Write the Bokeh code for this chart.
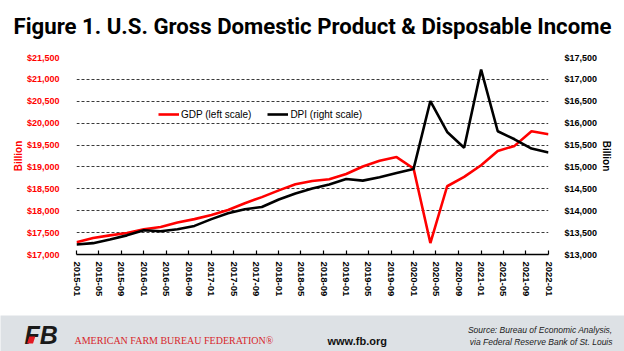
import pandas as pd
from bokeh.plotting import figure
from bokeh.models import (Range1d, LinearAxis, FixedTicker, DatetimeTickFormatter,
                          NumeralTickFormatter, Legend, LegendItem, ColumnDataSource)
from bokeh.layouts import column
from bokeh.embed import file_html
from bokeh.resources import INLINE
from bokeh.core.properties import value

# ---------------- data ----------------
quarters = ["2015-01", "2015-04", "2015-07", "2015-10",
            "2016-01", "2016-04", "2016-07", "2016-10",
            "2017-01", "2017-04", "2017-07", "2017-10",
            "2018-01", "2018-04", "2018-07", "2018-10",
            "2019-01", "2019-04", "2019-07", "2019-10",
            "2020-01", "2020-04", "2020-07", "2020-10",
            "2021-01", "2021-04", "2021-07", "2021-10",
            "2022-01"]
gdp = [17282, 17375, 17437, 17491, 17576, 17630, 17731, 17808, 17900, 18016,
       18171, 18310, 18465, 18605, 18680, 18720, 18840, 19010, 19140, 19225,
       18965, 17262, 18559, 18772, 19039, 19366, 19481, 19815, 19745]
dpi = [13229, 13259, 13345, 13437, 13553, 13530, 13576, 13653, 13808, 13940,
       14035, 14085, 14255, 14395, 14510, 14600, 14725, 14688, 14764, 14860,
       14955, 16505, 15800, 15440, 17225, 15815, 15632, 15420, 15330]
x_tick_labels = ["2015-01", "2015-05", "2015-09", "2016-01", "2016-05", "2016-09",
                 "2017-01", "2017-05", "2017-09", "2018-01", "2018-05", "2018-09",
                 "2019-01", "2019-05", "2019-09", "2020-01", "2020-05", "2020-09",
                 "2021-01", "2021-05", "2021-09", "2022-01"]
left_ticks = [17000, 17500, 18000, 18500, 19000, 19500, 20000, 20500, 21000, 21500]
right_ticks = [13000, 13500, 14000, 14500, 15000, 15500, 16000, 16500, 17000, 17500]

title_text = "Figure 1. U.S. Gross Domestic Product & Disposable Income"
source_lines = ["Source: Bureau of Economic Analysis,", "via Federal Reserve Bank of St. Louis"]

W = 624
FONT = "Liberation Sans"


def banner(height, fill):
    f = figure(width=W, height=height, x_range=Range1d(0, W), y_range=Range1d(height, 0),
               output_backend="svg", toolbar_location=None, min_border=0,
               x_axis_location=None, y_axis_location=None,
               background_fill_color=fill, border_fill_color=fill, frame_align=False)
    f.grid.visible = False
    f.outline_line_color = None
    return f


# ---------------- title ----------------
TH = 40
pt = banner(TH, "#ffffff")
pt.text(x=[13], y=[25.5], text=[title_text], text_font=value("Roboto"),
        text_font_size=value("22.2px"), text_font_style="bold", text_color="#000000",
        text_baseline="middle", text_align="left")

# ---------------- main chart ----------------
MH = 275
dates = pd.to_datetime(quarters)
tick_dates = pd.to_datetime(x_tick_labels)
epoch = pd.Timestamp("1970-01-01")
tick_ms = [float((d - epoch) / pd.Timedelta(milliseconds=1)) for d in tick_dates]

src = ColumnDataSource(dict(date=dates, gdp=gdp, dpi=dpi))

p = figure(width=W, height=MH, x_axis_type="datetime",
           x_range=Range1d(tick_dates[0], tick_dates[-1]),
           y_range=Range1d(left_ticks[0], left_ticks[-1]),
           output_backend="svg", toolbar_location=None, frame_align=False,
           min_border_left=76, min_border_right=76, min_border_top=17, min_border_bottom=61)
p.outline_line_color = None
p.extra_y_ranges = {"dpi": Range1d(right_ticks[0], right_ticks[-1])}

r_gdp = p.line("date", "gdp", source=src, line_color="#ff0000", line_width=2.6)
r_dpi = p.line("date", "dpi", source=src, line_color="#000000", line_width=2.6,
               y_range_name="dpi")

# x axis
xa = p.xaxis[0]
xa.ticker = FixedTicker(ticks=tick_ms)
fmt = "%Y-%m"
xa.formatter = DatetimeTickFormatter(microseconds=fmt, milliseconds=fmt, seconds=fmt,
                                     minsec=fmt, minutes=fmt, hourmin=fmt, hours=fmt,
                                     days=fmt, months=fmt, years=fmt)
xa.major_label_orientation = "vertical"
xa.major_label_text_font = FONT
xa.major_label_text_font_size = "9.5px"
xa.major_label_text_font_style = "bold"
xa.major_label_text_color = "#000000"
xa.major_label_standoff = 7
xa.axis_line_color = "#000000"
xa.axis_line_width = 1.3
xa.major_tick_in = 4
xa.major_tick_out = 0
xa.major_tick_line_color = "#000000"
xa.major_tick_line_width = 1.2
xa.minor_tick_line_color = None
p.xgrid.visible = False

# left axis
ya = p.yaxis[0]
ya.ticker = FixedTicker(ticks=left_ticks)
ya.formatter = NumeralTickFormatter(format="$0,0")
ya.axis_line_color = None
ya.major_tick_line_color = None
ya.minor_tick_line_color = None
ya.major_label_text_font = FONT
ya.major_label_text_font_size = "9px"
ya.major_label_text_font_style = "bold"
ya.major_label_text_color = "#ff0000"
ya.major_label_standoff = 11
ya.axis_label = "Billion"
ya.axis_label_text_font = FONT
ya.axis_label_text_font_size = "10px"
ya.axis_label_text_font_style = "bold"
ya.axis_label_text_color = "#ff0000"
ya.axis_label_standoff = 0

# right axis
ra = LinearAxis(y_range_name="dpi", ticker=FixedTicker(ticks=right_ticks),
                formatter=NumeralTickFormatter(format="$0,0"))
ra.axis_line_color = None
ra.major_tick_line_color = None
ra.minor_tick_line_color = None
ra.major_label_text_font = FONT
ra.major_label_text_font_size = "9px"
ra.major_label_text_font_style = "bold"
ra.major_label_text_color = "#000000"
ra.major_label_standoff = 10
ra.axis_label = "Billion"
ra.axis_label_text_font = FONT
ra.axis_label_text_font_size = "10px"
ra.axis_label_text_font_style = "bold"
ra.axis_label_text_color = "#000000"
ra.axis_label_standoff = 1
p.add_layout(ra, "right")

# grid
p.ygrid.ticker = FixedTicker(ticks=left_ticks)
p.ygrid.grid_line_color = "#3a3a3a"
p.ygrid.grid_line_dash = "3 2"
p.ygrid.grid_line_width = 1

# legend
legend = Legend(items=[LegendItem(label="GDP (left scale)", renderers=[r_gdp]),
                       LegendItem(label="DPI (right scale)", renderers=[r_dpi])],
                orientation="horizontal", location=(82, 134))
legend.border_line_color = None
legend.background_fill_alpha = 0
legend.padding = 0
legend.margin = 0
legend.spacing = 16
legend.glyph_width = 21
legend.glyph_height = 12
legend.label_standoff = 2
legend.label_text_font = FONT
legend.label_text_font_size = "10px"
legend.label_text_color = "#000000"
p.add_layout(legend, "center")

# ---------------- footer ----------------
FH = 36
pf = banner(FH, "#dde1e5")
pf.text(x=[24], y=[19.5], text=["FB"], text_font=value("Liberation Sans"),
        text_font_size=value("25px"), text_font_style="bold italic", text_color="#1a1a1a",
        text_baseline="middle", text_align="left")
pf.patch(x=[26.5, 32.5, 34.8, 28.8], y=[28.0, 28.0, 21.0, 21.0], fill_color="#e31b23",
         line_color=None)
pf.text(x=[74], y=[25], text=["AMERICAN FARM BUREAU FEDERATION\u00ae"],
        text_font=value("Liberation Serif"), text_font_size=value("10px"),
        text_color="#d7262b", text_baseline="middle", text_align="left")
pf.text(x=[327], y=[25], text=["www.fb.org"], text_font=value("Liberation Sans"),
        text_font_size=value("11px"), text_font_style="bold", text_color="#111111",
        text_baseline="middle", text_align="left")
pf.text(x=[612, 612], y=[14, 26], text=source_lines, text_font=value("Liberation Sans"),
        text_font_size=value("8.5px"), text_font_style="italic", text_color="#222222",
        text_baseline="middle", text_align="right")

layout = column(pt, p, pf, spacing=0)
open("out.html", "w").write(file_html(layout, INLINE))
